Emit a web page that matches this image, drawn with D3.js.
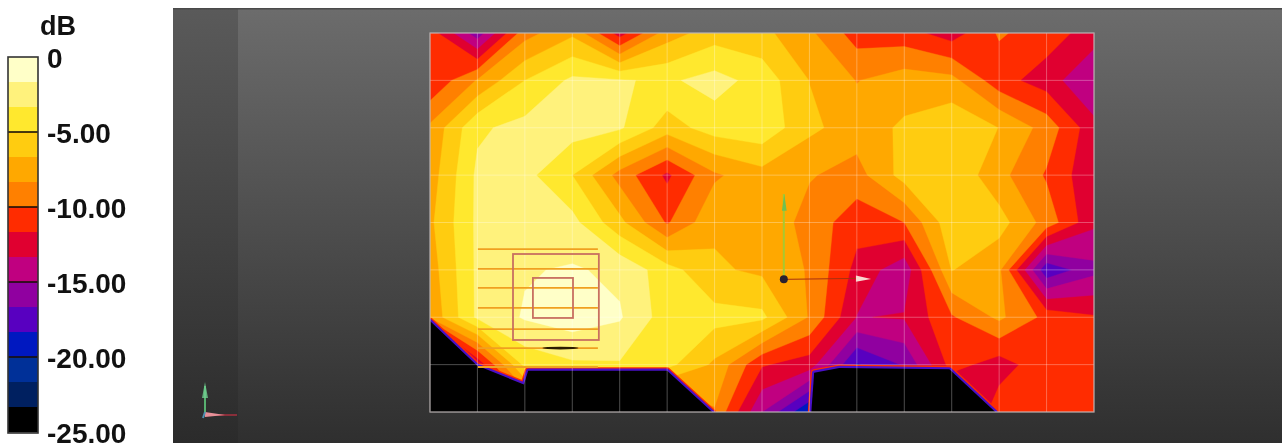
<!DOCTYPE html>
<html><head><meta charset="utf-8">
<script src="https://cdn.jsdelivr.net/npm/d3@7"></script>
<style>
html,body{margin:0;padding:0;background:#fff;overflow:hidden}
svg{display:block;filter:blur(0.75px)}
text{font-family:"Liberation Sans",Arial,sans-serif;font-weight:700;fill:#111}
</style></head><body>
<svg id="c" width="1282" height="443"></svg>
<script>
// Level (dB) at each grid node, one array per row of the measurement grid
const row0=[-10.8,-16,-9,-7,-12.5,-7.5,-5.8,-6.2,-8,-10.8,-11,-12.5,-9.8,-10.8,-12.5];
const row1=[-11.5,-8.2,-5,-3,-3.2,-3.6,-2.7,-4,-6.7,-8.4,-7.5,-7.8,-11,-12.5,-15];
const row2=[-8,-3.6,-2.8,-2.6,-3.1,-5.8,-4.2,-3.8,-6.3,-7.5,-6.4,-5.4,-6.7,-9,-12.8];
const row3=[-7.5,-3,-2.8,-5,-9,-12,-8.6,-7.3,-8.2,-9,-6,-5.3,-7.8,-10.2,-13];
const row4=[-7,-3,-1.8,-2.8,-6.2,-10.2,-7,-7,-9,-11,-10,-5.5,-6,-9,-13];
const row5=[-7.5,-3,-1.8,-1.5,-2,-4.3,-6.4,-7,-8.5,-12.2,-14.5,-6.6,-8,-18,-15.5];
const row6=[-8,-3,-1.5,-0.8,-1.5,-4.2,-4.4,-4.6,-8.5,-13.4,-13.2,-10.2,-8,-10.5,-11.5];
const row7=[-40,-13,-4.5,-3.6,-3.5,-4.5,-7,-11.5,-12.5,-18.5,-16.5,-11,-12.5,-10.5,-11];
const row8=[-40,-30,-12,-12,-12,-12,-8.5,-15,-20,-20,-20,-15,-10.6,-10.5,-11];
const rows=[row0,row1,row2,row3,row4,row5,row6,row7,row8];

// Areas without signal (in grid units, column then row)
const noSignalLeft=[[0,6.08],[0.99,7.02],[1.98,7.42],[2.07,7.13],[5,7.13],[5.95,8],[0,8]];
const noSignalRight=[[8.04,8],[8.1,7.17],[8.63,7.07],[10.95,7.1],[11.92,8]];

// Colour bar
const bandColors=["#ffffc8","#fff27c","#ffe82e","#ffcc10","#ffa800","#ff8000","#ff2c00","#e00030","#c00080","#9000a0","#5800c0","#0018c0","#003098","#002060","#000000"];
const legendTicks=[0,-5,-10,-15,-20,-25];
const unitLabel="dB";
const bandStep=25/15;

// Antenna array drawn over the map
const arrayLines=[[1.01,3.54,4.56],[1.01,3.54,4.98],[1.01,3.54,5.38],[1.01,3.54,5.8],[1.01,3.54,6.25],[1.01,3.54,6.65],[1.01,3.54,7.05]];
const arrayBoxes=[[1.75,3.56,4.665,6.48],[2.17,3.015,5.17,6.015]];

const svg=d3.select("#c");
const nx=row0.length, ny=rows.length;
const X0=430,X1=1094,Y0=33,Y1=412;
const xs=d3.scaleLinear([0,nx-1],[X0,X1]);
const ys=d3.scaleLinear([0,ny-1],[Y0,Y1]);

// Panel
const defs=svg.append("defs");
const g1=defs.append("linearGradient").attr("id","bg").attr("x1",0).attr("y1",0).attr("x2",0).attr("y2",1);
g1.append("stop").attr("offset",0).attr("stop-color","#6c6c6c");
g1.append("stop").attr("offset",1).attr("stop-color","#2f2f2f");
const g2=defs.append("linearGradient").attr("id","bgl").attr("x1",0).attr("y1",0).attr("x2",0).attr("y2",1);
g2.append("stop").attr("offset",0).attr("stop-color","#5a5a5a");
g2.append("stop").attr("offset",1).attr("stop-color","#2b2b2b");
defs.append("clipPath").attr("id","plot").append("rect").attr("x",X0).attr("y",Y0).attr("width",X1-X0).attr("height",Y1-Y0);
svg.append("rect").attr("x",173).attr("y",8).attr("width",1109).attr("height",435).attr("fill","url(#bg)");
svg.append("rect").attr("x",173).attr("y",8).attr("width",65).attr("height",435).attr("fill","url(#bgl)");
svg.append("rect").attr("x",173).attr("y",8).attr("width",1109).attr("height",1.5).attr("fill","#4a4a4a");

// Contour map
const values=rows.flat();
const thresholds=d3.range(1,15).map(i=>-25+i*bandStep).map(t=>+t.toFixed(4));
const contours=d3.contours().size([nx,ny]).thresholds(thresholds)(values);
const project=d3.geoTransform({point(x,y){this.stream.point(xs(x-0.5),ys(y-0.5));}});
const path=d3.geoPath(project);
const map=svg.append("g").attr("clip-path","url(#plot)");
map.append("rect").attr("x",X0).attr("y",Y0).attr("width",X1-X0).attr("height",Y1-Y0).attr("fill",bandColors[14]);
const colorFor=t=>bandColors[Math.round(-t/bandStep)-1];
map.selectAll("path.band").data(contours).join("path").attr("class","band").attr("d",path)
  .attr("fill",d=>colorFor(d.value)).attr("stroke",d=>colorFor(d.value)).attr("stroke-width",0.4);

// No-signal areas with their steep edge
const outline=d3.line().x(d=>xs(d[0])).y(d=>ys(d[1])).curve(d3.curveLinearClosed);
[noSignalLeft,noSignalRight].forEach(poly=>{
  map.append("path").attr("d",outline(poly)).attr("fill","none").attr("stroke",bandColors[6]).attr("stroke-width",7).attr("stroke-linejoin","round");
  map.append("path").attr("d",outline(poly)).attr("fill","none").attr("stroke","#4a10c8").attr("stroke-width",4.4).attr("stroke-linejoin","round");
  map.append("path").attr("d",outline(poly)).attr("fill",bandColors[14]);
});

// Grid
const grid=svg.append("g").attr("stroke","#fff").attr("stroke-opacity",0.3).attr("stroke-width",1);
d3.range(nx).forEach(i=>grid.append("line").attr("x1",xs(i)).attr("x2",xs(i)).attr("y1",Y0).attr("y2",Y1));
d3.range(ny).forEach(j=>grid.append("line").attr("y1",ys(j)).attr("y2",ys(j)).attr("x1",X0).attr("x2",X1));
svg.append("rect").attr("x",X0).attr("y",Y0).attr("width",X1-X0).attr("height",Y1-Y0).attr("fill","none").attr("stroke","#b8b0b0").attr("stroke-opacity",0.65).attr("stroke-width",1.5);

// Array overlay
const ov=svg.append("g").attr("fill","none");
ov.selectAll("line").data(arrayLines).join("line")
  .attr("x1",d=>xs(d[0])).attr("x2",d=>xs(d[1])).attr("y1",d=>ys(d[2])).attr("y2",d=>ys(d[2]))
  .attr("stroke","#f0a020").attr("stroke-width",1.8);
ov.selectAll("rect").data(arrayBoxes).join("rect")
  .attr("x",d=>xs(d[0])).attr("y",d=>ys(d[2])).attr("width",d=>xs(d[1])-xs(d[0])).attr("height",d=>ys(d[3])-ys(d[2]))
  .attr("stroke","#c87060").attr("stroke-width",1.8);
svg.append("ellipse").attr("cx",xs(2.75)).attr("cy",ys(6.65)).attr("rx",18).attr("ry",1.4).attr("fill","#2a1a00");

// Source marker
svg.append("line").attr("x1",xs(7.46)).attr("x2",xs(7.46)).attr("y1",ys(3.4)).attr("y2",ys(5.2)).attr("stroke","#a8c830").attr("stroke-width",2);
svg.append("path").attr("d",d3.line()([[xs(7.42),ys(3.75)],[xs(7.47),ys(3.4)],[xs(7.52),ys(3.75)]])).attr("fill","#70c050");
svg.append("line").attr("x1",xs(7.46)).attr("x2",xs(9)).attr("y1",ys(5.2)).attr("y2",ys(5.18)).attr("stroke","#a83010").attr("stroke-width",1);
svg.append("path").attr("d",d3.line()([[xs(8.98),ys(5.12)],[xs(9.3),ys(5.19)],[xs(8.98),ys(5.25)]])).attr("fill","#f8d8d0");
svg.append("circle").attr("cx",xs(7.46)).attr("cy",ys(5.2)).attr("r",4).attr("fill","#2a2030");

// Corner triad
svg.append("line").attr("x1",205).attr("x2",205).attr("y1",386).attr("y2",414).attr("stroke","#58b070").attr("stroke-width",2);
svg.append("path").attr("d",d3.line()([[202,398],[205,382],[208,398]])).attr("fill","#70d090").attr("fill-opacity",.8);
svg.append("line").attr("x1",205).attr("x2",237).attr("y1",415).attr("y2",415).attr("stroke","#b03040").attr("stroke-width",1.4);
svg.append("path").attr("d",d3.line()([[205,412],[225,415],[205,417]])).attr("fill","#e89098");
svg.append("line").attr("x1",205).attr("x2",203).attr("y1",412).attr("y2",418).attr("stroke","#5090b0").attr("stroke-width",2);

// Legend
const ly=d3.scaleLinear([0,-25],[57,432]);
const leg=svg.append("g");
leg.selectAll("rect").data(bandColors).join("rect")
  .attr("x",8).attr("width",30)
  .attr("y",(d,i)=>ly(-i*bandStep)).attr("height",ly(-bandStep)-ly(0)+0.5).attr("fill",d=>d);
leg.selectAll("line").data(legendTicks.slice(1,5)).join("line")
  .attr("x1",8).attr("x2",38).attr("y1",d=>ly(d)).attr("y2",d=>ly(d)).attr("stroke","#1a1008").attr("stroke-width",1.6);
leg.append("rect").attr("x",8).attr("y",57).attr("width",30).attr("height",376).attr("fill","none").attr("stroke","#333").attr("stroke-width",1.6);
const axis=d3.axisRight(ly).tickValues(legendTicks).tickSize(0).tickPadding(0)
  .tickFormat(d=>d===0?"0":d.toFixed(2));
const ax=svg.append("g").attr("transform","translate(47,0)").call(axis);
ax.select(".domain").remove();
ax.selectAll("text").attr("x",0).attr("dy","0.36em").style("font-size","28px").style("font-family",'"Liberation Sans",Arial,sans-serif').style("font-weight",700).attr("fill","#111");
svg.append("text").attr("x",40).attr("y",35).style("font-size","27px").text(unitLabel);
</script>
</body></html>
